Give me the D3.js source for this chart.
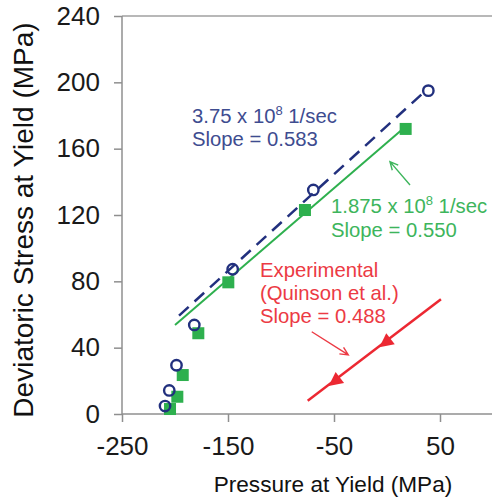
<!DOCTYPE html>
<html><head><meta charset="utf-8">
<script src="https://cdn.jsdelivr.net/npm/d3@7"></script>
<style>body{margin:0;background:#fff}svg{display:block}text{font-family:"Liberation Sans",Arial,sans-serif}</style>
</head><body><svg id="c" width="492" height="500"></svg>
<script>
// ---- data ----
const xTicks = [-250, -150, -50, 50];
const yTicks = [0, 40, 80, 120, 160, 200, 240];
const fastX = [-209.4, -205.4, -198.6, -181.8, -145.6, -69.5, 39];
const fastY = [4.8, 14.2, 29.4, 53.7, 87.3, 135.1, 195];
const slowX = [-204.7, -197.8, -192.7, -178, -149.7, -77.4, 17.6];
const slowY = [3.0, 10.4, 23.5, 48.7, 79.4, 123, 171.9];
const fastFitX = [-196.2, 37];
const fastFitY = [59.3, 195.3];
const slowFitX = [-200, 17.6];
const slowFitY = [53.7, 173.4];
const expFitX = [-74.8, 50.9];
const expFitY = [8.0, 69.2];
const expPtX = [-49, -1.2];
const expPtY = [19.8, 43.2];
const xTitle = "Pressure at Yield (MPa)";
const yTitle = "Deviatoric Stress at Yield (MPa)";

const svg = d3.select("#c");
const x = d3.scaleLinear().domain([-250, 100]).range([122, 493]);
const y = d3.scaleLinear().domain([0, 240]).range([414, 16]);
const FONT = '"Liberation Sans",Arial,sans-serif';
const axisCol = "#8f8f8f";
const blue = "#22307e", blueTxt = "#3e4c90";
const green = "#2eb04e", greenTxt = "#3db55c";
const red = "#ec2832", redTxt = "#ec3a44";

// top frame line
svg.append("line").attr("x1", x(-250)).attr("x2", 492).attr("y1", y(240)).attr("y2", y(240))
  .attr("stroke", "#a0a0a0").attr("stroke-width", 1.5);

// axes
const gy = svg.append("g").attr("transform", `translate(${x(-250)},0)`)
  .call(d3.axisLeft(y).tickValues(yTicks).tickFormat(d => String(d)).tickSize(8).tickPadding(14));
const gx = svg.append("g").attr("transform", `translate(0,${y(0)})`)
  .call(d3.axisBottom(x).tickValues(xTicks).tickFormat(d => String(d)).tickSize(8).tickPadding(15));
gy.select(".domain").attr("d", `M0,${y(240)}V${y(0)}`);
gx.select(".domain").attr("d", `M${x(-250)},0H492`);
[gx, gy].forEach(g => {
  g.selectAll(".domain, .tick line").attr("stroke", axisCol).attr("stroke-width", 1.5);
  g.selectAll("text").attr("font-family", FONT).attr("font-size", 26).attr("fill", "#1a1a1a");
});

// titles
svg.append("text").attr("x", 333).attr("y", 492).attr("text-anchor", "middle")
  .attr("font-size", 22.6).attr("fill", "#111").text(xTitle);
svg.append("text").attr("transform", `translate(33,220) rotate(-90)`).attr("text-anchor", "middle")
  .attr("font-size", 28).attr("fill", "#111").text(yTitle);

const line = d3.line().x(d => x(d[0])).y(d => y(d[1]));
// fits
svg.append("path").datum(d3.zip(slowFitX, slowFitY)).attr("d", line)
  .attr("stroke", green).attr("stroke-width", 2).attr("fill", "none");
svg.append("path").datum(d3.zip(fastFitX, fastFitY)).attr("d", line)
  .attr("stroke", blue).attr("stroke-width", 2.5).attr("fill", "none").attr("stroke-dasharray", "13,8");
svg.append("path").datum(d3.zip(expFitX, expFitY)).attr("d", line)
  .attr("stroke", red).attr("stroke-width", 2.5).attr("fill", "none");

// squares
svg.selectAll(".sq").data(d3.zip(slowX, slowY)).join("rect")
  .attr("x", d => x(d[0]) - 6).attr("y", d => y(d[1]) - 6).attr("width", 12).attr("height", 12)
  .attr("fill", green);
// circles
svg.selectAll(".ci").data(d3.zip(fastX, fastY)).join("circle")
  .attr("cx", d => x(d[0])).attr("cy", d => y(d[1])).attr("r", 5.2)
  .attr("fill", "none").attr("stroke", blue).attr("stroke-width", 2.4);

// experimental triangles pointing down-left along line
const ang = Math.atan2(y(expFitY[0]) - y(expFitY[1]), x(expFitX[0]) - x(expFitX[1]));
svg.selectAll(".tri").data(d3.zip(expPtX, expPtY)).join("path")
  .attr("transform", d => `translate(${x(d[0])},${y(d[1])}) rotate(${ang * 180 / Math.PI})`)
  .attr("d", "M8,0L-6,-7L-6,7Z").attr("fill", red);

// annotation arrows (data coords)
function arrow(p0, p1, col) {
  const a = [x(p0[0]), y(p0[1])], b = [x(p1[0]), y(p1[1])];
  const t = Math.atan2(b[1] - a[1], b[0] - a[0]), L = 9, s = 0.45;
  const h1 = [b[0] - L * Math.cos(t - s), b[1] - L * Math.sin(t - s)];
  const h2 = [b[0] - L * Math.cos(t + s), b[1] - L * Math.sin(t + s)];
  svg.append("path").attr("d", `M${a}L${b}M${h1}L${b}L${h2}`)
    .attr("stroke", col).attr("stroke-width", 1.4).attr("fill", "none");
}
arrow([21.7, 138.1], [2.8, 152.2], greenTxt);
arrow([-71, 49.6], [-36.5, 35.6], redTxt);

// annotation text
function label(x0, y0, lines, col, dy) {
  lines.forEach((ln, i) => {
    const t = svg.append("text").attr("x", x0).attr("y", y0 + i * dy)
      .attr("font-size", 20.3).attr("fill", col);
    if (Array.isArray(ln)) {
      t.append("tspan").text(ln[0]);
      t.append("tspan").attr("dy", -8).attr("font-size", 13).text(ln[1]);
      t.append("tspan").attr("dy", 8).text(ln[2]);
    } else t.text(ln);
  });
}
label(192, 123, [["3.75 x 10", "8", " 1/sec"], "Slope = 0.583"], blueTxt, 23);
label(331, 213, [["1.875 x 10", "8", " 1/sec"], "Slope = 0.550"], greenTxt, 24);
label(260, 277, ["Experimental", "(Quinson et al.)", "Slope = 0.488"], redTxt, 23);
</script></body></html>
